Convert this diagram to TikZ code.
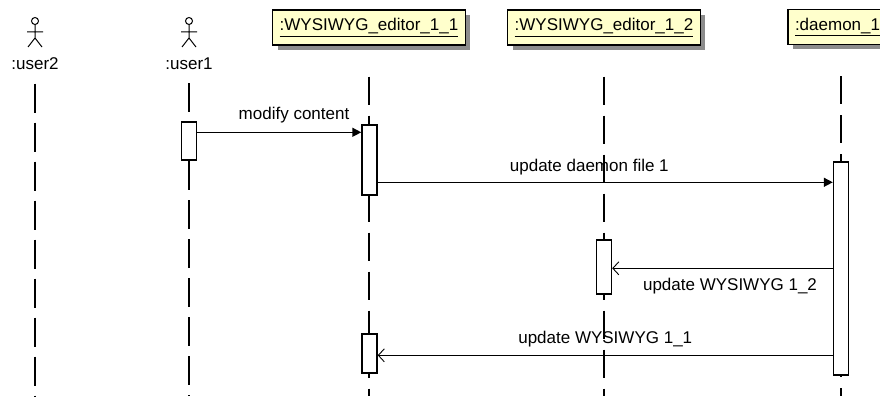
\documentclass[tikz,border=0pt]{standalone}
\usepackage{fontspec}
\setmainfont{Liberation Sans}
\usetikzlibrary{arrows.meta,shadows}
\definecolor{headyellow}{RGB}{255,255,204}

\begin{document}
\begin{tikzpicture}[x=1pt,y=-1pt,font=\fontsize{17}{20}\selectfont,
    head/.style={draw,line width=1.4pt,fill=headyellow,minimum height=35pt,inner xsep=7pt,
      drop shadow={shadow xshift=5pt,shadow yshift=-5pt,fill=black!45,opacity=1}},
    lifeline/.style={line width=1.3pt,dash pattern=on 28pt off 11pt},
    act/.style={draw,line width=1.4pt,fill=white,minimum width=15pt,inner sep=0pt},
    sync/.style={draw,line width=1.4pt,-{Triangle[length=9pt,width=9pt]}},
    reply/.style={draw,line width=1.3pt,-{Straight Barb[length=6pt,width=13pt,line width=0.9pt]}}]

  \useasboundingbox (0,0) rectangle (880,396);
  \coordinate (bottom) at (0,396);

  % actors
  \foreach \x/\n in {35/user2,189/user1}{
    \draw[line width=1pt] (\x,21) circle (3.5);
    \draw[line width=1pt] (\x,24.5) -- (\x,38) (\x-8,32) -- (\x+8,32)
      (\x-7,47) -- (\x,38) -- (\x+7,47);
    \node (\n) at (\x,64) {:\n};
    \draw[lifeline,dash pattern=on 29pt off 10pt] ([yshift=-10pt]\n.south) -- (\n.south |- bottom);
  }

  % objects
  \node[head] (e1) at (369,27.5) {\underline{:WYSIWYG\_editor\_1\_1}};
  \node[head] (e2) at (604,27.5) {\underline{:WYSIWYG\_editor\_1\_2}};
  \node[head,text width=92pt,align=left] (d1) at (841,27) {\underline{:daemon\_1}};

  \foreach \n in {e1,e2,d1}
    \draw[lifeline] ([yshift=-31pt]\n.south) -- (\n.south |- bottom);

  % activations
  \begin{scope}[every node/.style={act}]
    \node[minimum height=38pt]  (u1a) at (189,141) {};
    \node[minimum height=70pt]  (e1a) at (369.5,160) {};
    \node[minimum height=213pt] (d1a) at (841,268.5) {};
    \node[minimum height=54pt]  (e2a) at (604,267) {};
    \node[minimum height=39pt]  (e1b) at (369.5,353.5) {};
  \end{scope}

  % messages
  \path ([yshift=-11pt]u1a.north east) edge[sync] node[pos=.59,above=5pt] {modify content} ([yshift=-8pt]e1a.north west);
  \path ([yshift=-58pt]e1a.north east) edge[sync] node[pos=.465,above=3pt] {update daemon file 1} ([yshift=-21pt]d1a.north west);
  \path ([yshift=-107pt]d1a.north west) edge[reply] node[pos=.466,below=6pt] {update WYSIWYG 1\_2} ([yshift=-29pt]e2a.north east);
  \path ([yshift=-194pt]d1a.north west) edge[reply] node[pos=.5,above=4pt] {update WYSIWYG 1\_1} ([yshift=-22pt]e1b.north east);

\end{tikzpicture}
\end{document}
